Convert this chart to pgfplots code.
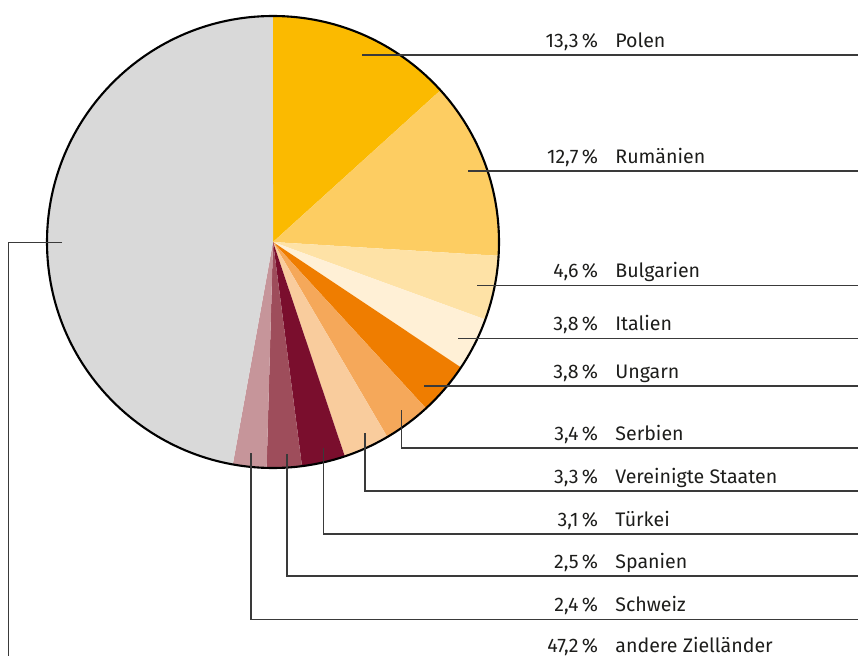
\documentclass[border=0pt]{standalone}
\usepackage{fontspec}
\setmainfont{Fira Sans}
\usepackage{pgfplots}
\usepackage{pgfplotstable}
\pgfplotsset{compat=1.18}

\definecolor{cPol}{HTML}{FBBA00}
\definecolor{cRum}{HTML}{FDCD62}
\definecolor{cBul}{HTML}{FEE2A6}
\definecolor{cIta}{HTML}{FFF0D6}
\definecolor{cUng}{HTML}{EF7D00}
\definecolor{cSer}{HTML}{F5A85A}
\definecolor{cUSA}{HTML}{F9CC9D}
\definecolor{cTur}{HTML}{7A0E2D}
\definecolor{cSpa}{HTML}{9E4D5B}
\definecolor{cSch}{HTML}{C6959A}
\definecolor{cAnd}{HTML}{D9D9D9}
\definecolor{leader}{HTML}{3A3A3A}
\definecolor{txt}{HTML}{1D1D1B}

% share in %, colour, start of leader line (px), leader line height (px)
\pgfplotstableread[col sep=comma]{
pct,name,col,ax,ay,ly
13.3,Polen,cPol,362,55,55
12.7,Rumänien,cRum,468,171,171
4.6,Bulgarien,cBul,477,285.5,285.5
3.8,Italien,cIta,458,338.5,338.5
3.8,Ungarn,cUng,424,386,386
3.4,Serbien,cSer,401.5,410,448
3.3,Vereinigte Staaten,cUSA,365,433,491
3.1,Türkei,cTur,323.5,448,534
2.5,Spanien,cSpa,287,454,576
2.4,Schweiz,cSch,251,453,619.5
47.2,andere Zielländer,cAnd,62,242.5,663
}\slices

\pgfkeys{/pgf/number format/.cd, use comma, fixed, fixed zerofill, precision=1, assume math mode=true}

\begin{document}
\begin{tikzpicture}
\begin{axis}[
  scale only axis,
  width=429pt, height=327.5pt,
  xmin=0, xmax=858, ymin=0, ymax=655,
  axis lines=none,
  clip=true,
]
% wedges, clockwise from 12 o'clock (shares sum to 100.1)
\gdef\cum{0}
\foreach \i in {0,...,10}{
  \pgfplotstablegetelem{\i}{pct}\of\slices \let\p\pgfplotsretval
  \pgfplotstablegetelem{\i}{col}\of\slices \let\c\pgfplotsretval
  \pgfmathsetmacro\aa{90-\cum*3.6/1.001}
  \pgfmathsetmacro\ab{90-(\cum+\p)*3.6/1.001}
  \edef\tmp{\noexpand\fill[\c] (axis cs:273,413) -- ++(\aa:113pt)
    arc[start angle=\aa, end angle=\ab, radius=113pt] -- cycle;}
  \tmp
  \pgfmathsetmacro\newcum{\cum+\p}
  \xdef\cum{\newcum}
}
\draw[line width=1.05pt, black] (axis cs:273,413) circle[radius=113pt];

% leader lines and labels
\foreach \i in {0,...,10}{
  \pgfplotstablegetelem{\i}{pct}\of\slices \let\p\pgfplotsretval
  \pgfplotstablegetelem{\i}{name}\of\slices \let\n\pgfplotsretval
  \pgfplotstablegetelem{\i}{ax}\of\slices \let\x\pgfplotsretval
  \pgfplotstablegetelem{\i}{ay}\of\slices \let\y\pgfplotsretval
  \pgfplotstablegetelem{\i}{ly}\of\slices \let\l\pgfplotsretval
  \pgfmathsetmacro\ya{655-\y}
  \pgfmathsetmacro\yl{655-\l}
  \pgfmathsetmacro\yt{655-\l+7.6}
  \ifnum\i=10
    \edef\tmp{\noexpand\draw[leader, line width=0.65pt]
      (axis cs:\x,\ya) -- (axis cs:8.5,\ya) -- (axis cs:8.5,\yl) -- (axis cs:858,\yl);}
    \pgfmathsetmacro\yt{2.5}
  \else
    \edef\tmp{\noexpand\draw[leader, line width=0.65pt]
      (axis cs:\x,\ya) -- (axis cs:\x,\yl) -- (axis cs:858,\yl);}
  \fi
  \tmp
  \edef\tmp{\noexpand\node[anchor=base east, inner sep=0pt, text=txt,
      font=\noexpand\fontsize{9.8}{11}\noexpand\selectfont]
      at (axis cs:598.5,\yt) {\noexpand\pgfmathprintnumber{\p}\noexpand\,\noexpand\%};
    \noexpand\node[anchor=base west, inner sep=0pt, text=txt,
      font=\noexpand\fontsize{9.8}{11}\noexpand\selectfont]
      at (axis cs:615,\yt) {\n};}
  \tmp
}
\end{axis}
\pgfresetboundingbox
\path[use as bounding box] (current axis.south west) rectangle (current axis.north east);
\end{tikzpicture}
\end{document}
